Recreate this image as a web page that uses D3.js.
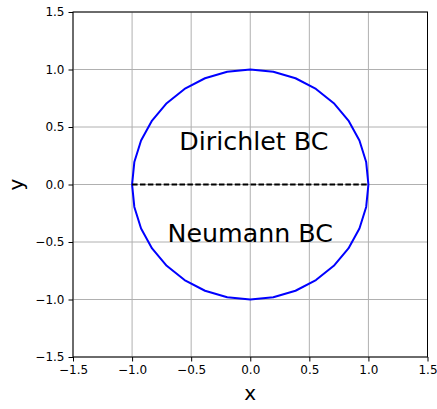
<!DOCTYPE html>
<html><head><meta charset="utf-8">
<script src="https://cdn.jsdelivr.net/npm/d3@7"></script>
<style>body{margin:0;background:#fff}svg{display:block}text{font-family:"DejaVu Sans",sans-serif}</style>
</head><body>
<script>
const circleX = [1.000,0.981,0.924,0.831,0.707,0.556,0.383,0.195,0.000,-0.195,-0.383,-0.556,-0.707,-0.831,-0.924,-0.981,-1.000,-0.981,-0.924,-0.831,-0.707,-0.556,-0.383,-0.195,0.000,0.195,0.383,0.556,0.707,0.831,0.924,0.981,1.000];
const circleY = [0.000,0.195,0.383,0.556,0.707,0.831,0.924,0.981,1.000,0.981,0.924,0.831,0.707,0.556,0.383,0.195,0.000,-0.195,-0.383,-0.556,-0.707,-0.831,-0.924,-0.981,-1.000,-0.981,-0.924,-0.831,-0.707,-0.556,-0.383,-0.195,0.000];
const dashX = [-1, 1];
const dashY = [0, 0];
const tickValues = [-1.5,-1.0,-0.5,0.0,0.5,1.0,1.5];
const labels = [{t:"Dirichlet BC", x:-0.6, y:0.3},{t:"Neumann BC", x:-0.7, y:-0.5}];

const W=437,H=409;
const L=73,R=427.5,T=12,B=357;
const svg=d3.select("body").append("svg").attr("width",W).attr("height",H);
const x=d3.scaleLinear().domain([-1.5,1.5]).range([L,R]);
const y=d3.scaleLinear().domain([-1.5,1.5]).range([B,T]);
const fmt=d=>d.toFixed(1).replace("-","\u2212");

// grid
const g=svg.append("g");
g.selectAll(".gx").data(tickValues).enter().append("line")
 .attr("x1",d=>x(d)).attr("x2",d=>x(d)).attr("y1",T).attr("y2",B)
 .attr("stroke","#b0b0b0").attr("stroke-width",1);
g.selectAll(".gy").data(tickValues).enter().append("line")
 .attr("y1",d=>y(d)).attr("y2",d=>y(d)).attr("x1",L).attr("x2",R)
 .attr("stroke","#b0b0b0").attr("stroke-width",1);

// circle
const pts=circleX.map((v,i)=>[v,circleY[i]]);
svg.append("path").datum(pts)
 .attr("d",d3.line().x(d=>x(d[0])).y(d=>y(d[1])))
 .attr("fill","none").attr("stroke","#0000ff").attr("stroke-width",2).attr("stroke-linejoin","round");

// dashed line
svg.append("path").datum(dashX.map((v,i)=>[v,dashY[i]]))
 .attr("d",d3.line().x(d=>x(d[0])).y(d=>y(d[1])))
 .attr("fill","none").attr("stroke","#000").attr("stroke-width",2).attr("stroke-dasharray","5.5,2.4");

// labels
svg.selectAll(".lab").data(labels).enter().append("text")
 .attr("x",d=>x(d.x)).attr("y",d=>y(d.y)).attr("font-size",25.3).attr("fill","#000").text(d=>d.t);

// axes
const xa=svg.append("g").attr("transform",`translate(0,${B})`)
 .call(d3.axisBottom(x).tickValues(tickValues).tickFormat(fmt).tickSize(4.5).tickPadding(4));
const ya=svg.append("g").attr("transform",`translate(${L},0)`)
 .call(d3.axisLeft(y).tickValues(tickValues).tickFormat(fmt).tickSize(4.5).tickPadding(4));
[xa,ya].forEach(a=>{
 a.selectAll("text").attr("font-size",12).attr("font-family","DejaVu Sans").attr("fill","#000");
 a.selectAll("line").attr("stroke","#000").attr("stroke-width",1);
 a.select(".domain").remove();
});
// spines
svg.append("rect").attr("x",L).attr("y",T).attr("width",R-L).attr("height",B-T)
 .attr("fill","none").attr("stroke","#000").attr("stroke-width",1);

svg.append("text").attr("x",(L+R)/2).attr("y",400).attr("text-anchor","middle").attr("font-size",20).text("x");
svg.append("text").attr("transform",`translate(23,${(T+B)/2}) rotate(-90)`).attr("text-anchor","middle").attr("font-size",20).text("y");
</script>
</body></html>
